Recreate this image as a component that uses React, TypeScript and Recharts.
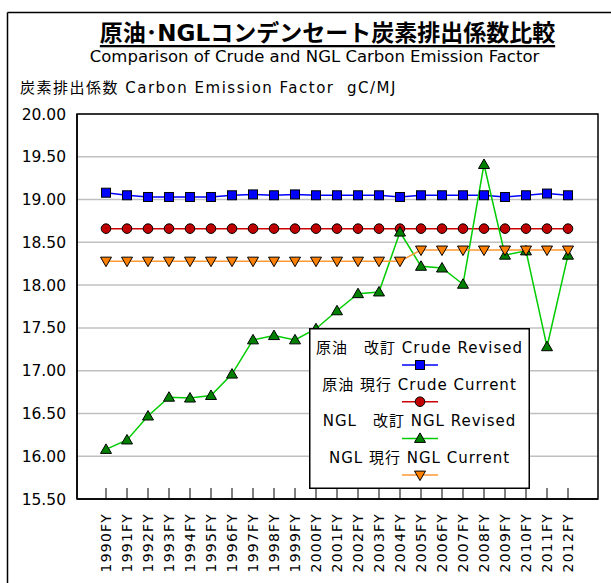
import { LineChart, Line, XAxis, YAxis, CartesianGrid, Legend } from 'recharts';

// fiscal years on the category axis
const years = [
  '1990FY', '1991FY', '1992FY', '1993FY', '1994FY', '1995FY', '1996FY', '1997FY',
  '1998FY', '1999FY', '2000FY', '2001FY', '2002FY', '2003FY', '2004FY', '2005FY',
  '2006FY', '2007FY', '2008FY', '2009FY', '2010FY', '2011FY', '2012FY',
];

// gC/MJ
const crudeRevised = [
  19.08, 19.05, 19.03, 19.03, 19.03, 19.03, 19.05, 19.06, 19.05, 19.06, 19.05, 19.05,
  19.05, 19.05, 19.03, 19.05, 19.05, 19.05, 19.05, 19.03, 19.05, 19.07, 19.05,
];
const crudeCurrent = [
  18.66, 18.66, 18.66, 18.66, 18.66, 18.66, 18.66, 18.66, 18.66, 18.66, 18.66, 18.66,
  18.66, 18.66, 18.66, 18.66, 18.66, 18.66, 18.66, 18.66, 18.66, 18.66, 18.66,
];
const nglRevised = [
  16.08, 16.19, 16.47, 16.69, 16.68, 16.71, 16.96, 17.36, 17.41, 17.36, 17.49, 17.70,
  17.90, 17.92, 18.62, 18.22, 18.20, 18.01, 19.41, 18.35, 18.40, 17.28, 18.35,
];
const nglCurrent = [
  18.28, 18.28, 18.28, 18.28, 18.28, 18.28, 18.28, 18.28, 18.28, 18.28, 18.28, 18.28,
  18.28, 18.28, 18.28, 18.41, 18.41, 18.41, 18.41, 18.41, 18.41, 18.41, 18.41,
];

const yTicks = [15.5, 16, 16.5, 17, 17.5, 18, 18.5, 19, 19.5, 20];

const data = years.map((year, i) => ({
  year,
  crudeRevised: crudeRevised[i],
  crudeCurrent: crudeCurrent[i],
  nglRevised: nglRevised[i],
  nglCurrent: nglCurrent[i],
}));

const FONT = "'DejaVu Sans', 'Noto Sans CJK JP', sans-serif";

// chart layout
const W = 611;
const H = 583;
const MARGIN = { top: 114, right: 13, bottom: 0, left: 0 };
const Y_AXIS_W = 77;
const X_AXIS_H = 84;

type Shape = 'square' | 'circle' | 'up' | 'down';

const SERIES: { key: string; name: string; line: string; fill: string; shape: Shape }[] = [
  { key: 'crudeRevised', name: '原油　改訂 Crude Revised', line: '#0000ff', fill: '#0000ff', shape: 'square' },
  { key: 'crudeCurrent', name: '原油 現行 Crude Current', line: '#cc0000', fill: '#c00000', shape: 'circle' },
  { key: 'nglRevised', name: 'NGL　改訂 NGL Revised', line: '#00cc00', fill: '#008000', shape: 'up' },
  { key: 'nglCurrent', name: 'NGL 現行 NGL Current', line: '#ff9933', fill: '#ff8000', shape: 'down' },
];

function Marker({ cx, cy, shape, fill }: { cx: number; cy: number; shape: Shape; fill: string }) {
  if (cx == null || cy == null) return null;
  const common = { fill, stroke: '#000', strokeWidth: 1 };
  if (shape === 'square') return <rect x={cx - 4.5} y={cy - 4.5} width={9} height={9} {...common} />;
  if (shape === 'circle') return <circle cx={cx} cy={cy} r={4.8} {...common} />;
  if (shape === 'up')
    return <polygon points={`${cx},${cy - 5.5} ${cx + 5.5},${cy + 4} ${cx - 5.5},${cy + 4}`} {...common} />;
  return <polygon points={`${cx},${cy + 5.5} ${cx + 5.5},${cy - 4} ${cx - 5.5},${cy - 4}`} {...common} />;
}

const YearTick = ({ x, y, payload }: any) => (
  <g>
    <line x1={x} y1={y - 11} x2={x} y2={y} stroke="#000" strokeWidth={1} />
    <text
      x={x}
      y={y + 14}
      transform={`rotate(-90 ${x} ${y + 14})`}
      textAnchor="end"
      dominantBaseline="central"
      fontFamily={FONT}
      fontSize={14}
      letterSpacing={1.2}
      fill="#000"
    >
      {payload.value}
    </text>
  </g>
);

// the legend box follows the series order, not the payload order
const LegendBox = () => {
  const rowH = 36.7;
  return (
    <svg width={221} height={161} style={{ display: 'block' }}>
      <rect x={0.75} y={0.75} width={219.5} height={159.5} fill="#fff" stroke="#000" strokeWidth={1.5} />
      {SERIES.map((s, i) => {
        const ty = 20 + i * rowH;
        const ly = 37 + i * rowH;
        return (
          <g key={s.key}>
            <text
              x={110.5}
              y={ty}
              textAnchor="middle"
              dominantBaseline="central"
              fontFamily={FONT}
              fontSize={15}
              letterSpacing={1}
              fill="#000"
            >
              {s.name}
            </text>
            <line x1={93} y1={ly} x2={129} y2={ly} stroke={s.line} strokeWidth={1.5} />
            <Marker cx={111} cy={ly} shape={s.shape} fill={s.fill} />
          </g>
        );
      })}
    </svg>
  );
};

export default function App() {
  const plotL = MARGIN.left + Y_AXIS_W;
  const plotT = MARGIN.top;
  const plotR = W - MARGIN.right;
  const plotB = H - MARGIN.bottom - X_AXIS_H;
  return (
    <div style={{ position: 'absolute', left: 0, top: 0, width: W, height: H, overflow: 'hidden', background: '#fff' }}>
      <svg width={W} height={H} style={{ position: 'absolute', left: 0, top: 0 }}>
        <line x1={7.5} y1={12.5} x2={W} y2={12.5} stroke="#000" strokeWidth={1.5} />
        <line x1={7.5} y1={12.5} x2={7.5} y2={H} stroke="#000" strokeWidth={1.5} />
        <text
          x={327.5}
          y={33}
          textAnchor="middle"
          dominantBaseline="central"
          fontFamily={FONT}
          fontSize={23}
          fontWeight="bold"
          textDecoration="underline"
          fill="#000"
        >
          原油･NGLコンデンセート炭素排出係数比較
        </text>
        <text x={314.5} y={56} textAnchor="middle" dominantBaseline="central" fontFamily={FONT} fontSize={16.5} fill="#000">
          Comparison of Crude and NGL Carbon Emission Factor
        </text>
        <text
          x={20}
          y={88}
          dominantBaseline="central"
          fontFamily={FONT}
          fontSize={15}
          letterSpacing={1.5}
          fill="#000"
          style={{ whiteSpace: 'pre' }}
        >
          {'炭素排出係数 Carbon Emission Factor  gC/MJ'}
        </text>
      </svg>
      <div style={{ position: 'absolute', left: 0, top: 0 }}>
        <LineChart width={W} height={H} data={data} margin={MARGIN}>
          <CartesianGrid vertical={false} stroke="#c0c0c0" strokeWidth={1.5} />
          <XAxis
            dataKey="year"
            interval={0}
            height={X_AXIS_H}
            padding={{ left: 29, right: 30 }}
            tickSize={0}
            tickMargin={0}
            tickLine={false}
            axisLine={{ stroke: '#000', strokeWidth: 1.5 }}
            tick={<YearTick />}
          />
          <YAxis
            domain={[15.5, 20]}
            ticks={yTicks}
            width={Y_AXIS_W}
            tickLine={false}
            tickMargin={5}
            axisLine={{ stroke: '#000', strokeWidth: 1.5 }}
            tickFormatter={(v: number) => v.toFixed(2)}
            tick={{ fontFamily: FONT, fontSize: 15.5, fill: '#000' }}
          />
          {SERIES.map((s) => (
            <Line
              key={s.key}
              dataKey={s.key}
              name={s.name}
              stroke={s.line}
              strokeWidth={1.5}
              isAnimationActive={false}
              dot={(p: any) => <Marker key={`${s.key}-${p.index}`} cx={p.cx} cy={p.cy} shape={s.shape} fill={s.fill} />}
              activeDot={false}
            />
          ))}
          <Legend
            layout="vertical"
            align="center"
            verticalAlign="middle"
            content={<LegendBox />}
            wrapperStyle={{ left: 309, top: 328, width: 221, height: 161, margin: 0 }}
          />
        </LineChart>
      </div>
      {/* plot-area frame */}
      <svg width={W} height={H} style={{ position: 'absolute', left: 0, top: 0, pointerEvents: 'none' }}>
        <rect x={plotL} y={plotT} width={plotR - plotL} height={plotB - plotT} fill="none" stroke="#000" strokeWidth={1.5} />
      </svg>
    </div>
  );
}
